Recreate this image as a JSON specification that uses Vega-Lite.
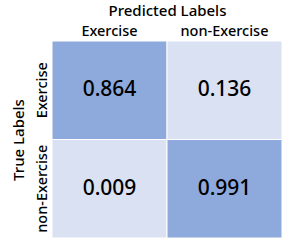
{
  "$schema": "https://vega.github.io/schema/vega-lite/v6.json",
  "width": 230,
  "height": 197,
  "autosize": {"type": "none"},
  "padding": {"left": 52, "top": 41, "right": 5, "bottom": 3},
  "background": "white",
  "config": {"view": {"stroke": null}},
  "data": {"values": [
    {"actual": "Exercise", "predicted": "Exercise", "value": 0.864},
    {"actual": "Exercise", "predicted": "non-Exercise", "value": 0.136},
    {"actual": "non-Exercise", "predicted": "Exercise", "value": 0.009},
    {"actual": "non-Exercise", "predicted": "non-Exercise", "value": 0.991}
  ]},
  "encoding": {
    "x": {"field": "predicted", "type": "nominal", "sort": ["Exercise", "non-Exercise"],
      "scale": {"paddingInner": 0, "paddingOuter": 0},
      "axis": {"orient": "top", "title": "Predicted Labels", "labelAngle": 0, "domain": false, "ticks": false,
        "labelFont": "Noto Sans", "labelFontSize": 14.5, "labelFontWeight": 500, "labelColor": "black", "labelPadding": 3,
        "titleFont": "Noto Sans", "titleFontSize": 15, "titleFontWeight": 500, "titleColor": "black", "titlePadding": 5}},
    "y": {"field": "actual", "type": "nominal", "sort": ["Exercise", "non-Exercise"],
      "scale": {"paddingInner": 0, "paddingOuter": 0},
      "axis": {"title": "True Labels", "labelAngle": -90, "labelAlign": "center", "labelBaseline": "bottom", "domain": false, "ticks": false,
        "labelFont": "Noto Sans", "labelFontSize": 14.5, "labelFontWeight": 500, "labelColor": "black", "labelPadding": 3,
        "titleFont": "Noto Sans", "titleFontSize": 15, "titleFontWeight": 500, "titleColor": "black", "titlePadding": 8}}
  },
  "layer": [
    {"mark": {"type": "rect", "stroke": "white", "strokeWidth": 1},
      "encoding": {"color": {"field": "value", "type": "quantitative",
        "scale": {"type": "threshold", "domain": [0.5], "range": ["#D9E1F2", "#8EA9DB"]}, "legend": null}}},
    {"mark": {"type": "text", "font": "Noto Sans", "fontSize": 21, "fontWeight": 500, "color": "black"},
      "encoding": {"text": {"field": "value", "type": "quantitative", "format": ".3f"}}}
  ]
}
